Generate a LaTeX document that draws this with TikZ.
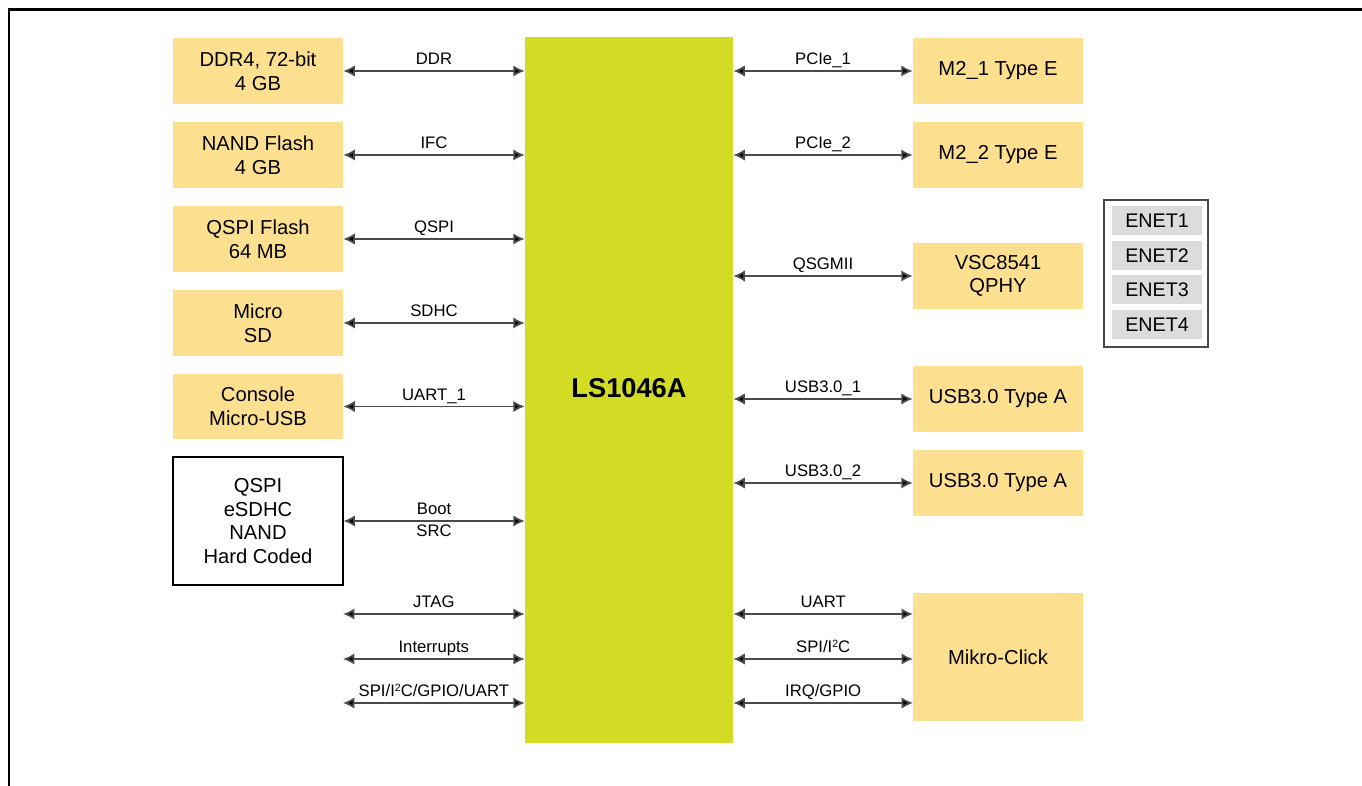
\documentclass[tikz,border=0pt]{standalone}
\usepackage{fontspec}
\setmainfont{Liberation Sans}
\usetikzlibrary{positioning, arrows.meta}

\definecolor{boxyellow}{HTML}{FDE08F}
\definecolor{chipgreen}{HTML}{D3DC24}
\definecolor{enetgray}{HTML}{DCDCDC}
\definecolor{linegray}{HTML}{4A4A4A}

\newcommand{\sqr}{{\fontsize{6}{6}\selectfont\raisebox{3pt}{2}}}

\begin{document}
\begin{tikzpicture}[x=0.02cm, y=-0.02cm,
        periph/.style = {shape = rectangle, fill = boxyellow, minimum width = 3.4cm, minimum height = 1.32cm, inner sep = 0pt, align = center, font = \fontsize{11.5}{13.5}\selectfont},
        bus/.style = {draw = linegray, line width = 1pt, {Latex[length=6.5pt, width=6.5pt, fill=black]}-{Latex[length=6.5pt, width=6.5pt, fill=black]}},
        buslabel/.style = {midway, anchor = base, yshift = 3.6pt, inner sep = 0pt, font = \fontsize{9.5}{11}\selectfont},
        enet/.style = {shape = rectangle, fill = enetgray, minimum width = 1.8cm, minimum height = 0.58cm, inner sep = 0pt, font = \fontsize{11.2}{12}\selectfont}]
                \useasboundingbox (0, 0) rectangle (1362, 786);
                \draw [line width = 1.7pt] (9, 786) -- (9, 10) -- (1362, 10);

                \node [shape = rectangle, fill = chipgreen, minimum width = 4.16cm, minimum height = 14.12cm, inner sep = 0pt] (chip) at (629, 390) {};
                \node [font = \fontsize{15.5}{17}\selectfont\bfseries] (chiplabel) at (629, 388) {LS1046A};

                % left side
                \node [periph] (ddr) at (258, 71) {DDR4, 72-bit\\4 GB};
                \node [periph] (nand) at (258, 155) {NAND Flash\\4 GB};
                \node [periph] (qspi) at (258, 239) {QSPI Flash\\64 MB};
                \node [periph] (sd) at (258, 323) {Micro\\SD};
                \node [periph] (console) at (258, 406.5) {Console\\Micro-USB};
                \node [periph, fill = white, draw = black, line width = 0.6pt, minimum height = 2.56cm] (boot) at (258, 521) {QSPI\\eSDHC\\NAND\\Hard Coded};
                \coordinate (jtag) at (343, 614);
                \coordinate (irq) at (343, 659);
                \coordinate (misc) at (343, 703);

                \draw [bus] (ddr.east) -- (ddr.east -| chip.west) node [buslabel] {DDR};
                \draw [bus] (nand.east) -- (nand.east -| chip.west) node [buslabel] {IFC};
                \draw [bus] (qspi.east) -- (qspi.east -| chip.west) node [buslabel] {QSPI};
                \draw [bus] (sd.east) -- (sd.east -| chip.west) node [buslabel] {SDHC};
                \draw [bus] (console.east) -- (console.east -| chip.west) node [buslabel] {UART\_1};
                \draw [bus] (boot.east) -- (boot.east -| chip.west) node [buslabel] {Boot} node [buslabel, yshift = -12.5pt] {SRC};
                \draw [bus] (jtag) -- (jtag -| chip.west) node [buslabel] {JTAG};
                \draw [bus] (irq) -- (irq -| chip.west) node [buslabel] {Interrupts};
                \draw [bus] (misc) -- (misc -| chip.west) node [buslabel] {SPI/I\sqr C/GPIO/UART};

                % right side
                \node [periph] (m2a) at (998, 71) {M2\_1 Type E};
                \node [periph] (m2b) at (998, 155) {M2\_2 Type E};
                \node [periph] (phy) at (998, 276) {VSC8541\\QPHY};
                \node [periph] (usba) at (998, 399) {USB3.0 Type A};
                \node [periph] (usbb) at (998, 483) {USB3.0 Type A};
                \node [periph, minimum height = 2.56cm] (mikro) at (998, 657) {Mikro-Click};
                \coordinate (mkuart) at (913, 614);
                \coordinate (mkspi) at (913, 659);
                \coordinate (mkgpio) at (913, 703);

                \draw [bus] (m2a.west -| chip.east) -- (m2a.west) node [buslabel] {PCIe\_1};
                \draw [bus] (m2b.west -| chip.east) -- (m2b.west) node [buslabel] {PCIe\_2};
                \draw [bus] (phy.west -| chip.east) -- (phy.west) node [buslabel] {QSGMII};
                \draw [bus] (usba.west -| chip.east) -- (usba.west) node [buslabel] {USB3.0\_1};
                \draw [bus] (usbb.west -| chip.east) -- (usbb.west) node [buslabel] {USB3.0\_2};
                \draw [bus] (mkuart -| chip.east) -- (mkuart) node [buslabel] {UART};
                \draw [bus] (mkspi -| chip.east) -- (mkspi) node [buslabel] {SPI/I\sqr C};
                \draw [bus] (mkgpio -| chip.east) -- (mkgpio) node [buslabel] {IRQ/GPIO};

                % ethernet ports
                \node [shape = rectangle, draw = linegray, line width = 0.6pt, minimum width = 2.08cm, minimum height = 2.94cm, inner sep = 0pt] (ports) at (1156, 273.5) {};
                \node [enet] (enet1) at (1157, 221) {ENET1};
                \node [enet] (enet2) at (1157, 255.5) {ENET2};
                \node [enet] (enet3) at (1157, 290) {ENET3};
                \node [enet] (enet4) at (1157, 324.5) {ENET4};
            \end{tikzpicture}
\end{document}
